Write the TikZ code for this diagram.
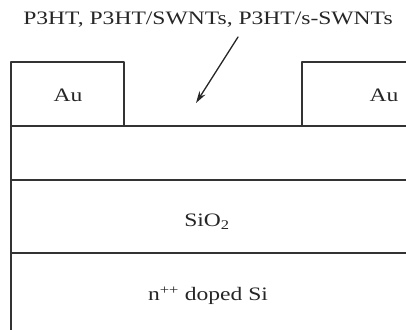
\documentclass[tikz,border=0pt]{standalone}
\usepackage{fontspec}
\setmainfont[FakeStretch=1.24]{Liberation Serif}
\usetikzlibrary{arrows.meta}

\begin{document}
\begin{tikzpicture}[line cap=round,line join=round,>={Stealth[length=12pt,width=7pt]},x=1pt,y=-1pt, layer/.style={draw=black!80, line width=1.3pt}, lbl/.style={font=\fontsize{19}{20}\selectfont, text=black!85, inner sep=1pt}]
                        \useasboundingbox (0,0) rectangle (406,329);
                        \clip (0,0) rectangle (406,329);

                        % gold contacts
                        \draw [layer] (11,126) -- (11,62) -- (124,62) -- (124,126);
                        \draw [layer] (302,126) -- (302,62) -- (412,62);

                        % stack
                        \draw [layer] (11,126) -- (412,126);
                        \draw [layer] (11,180) -- (412,180);
                        \draw [layer] (11,253) -- (412,253);
                        \draw [layer] (11,126) -- (11,335);

                        \node[lbl] (au1) at (68,95) {Au};
                        \node[lbl] (au2) at (384,95) {Au};
                        \node[lbl] (oxide) at (207,222) {SiO\textsubscript{2}};
                        \node[lbl] (si) at (208,296) {n\textsuperscript{++} doped Si};

                        \node[lbl] (film) at (208,20) {P3HT, P3HT/SWNTs, P3HT/s-SWNTs};
                        \coordinate (tail) at (238,37);
                        \coordinate (tip) at (196,103);

                        \draw [line width=1.3pt, ->, black!85] (tail) -- (tip);
                    \end{tikzpicture}
\end{document}
